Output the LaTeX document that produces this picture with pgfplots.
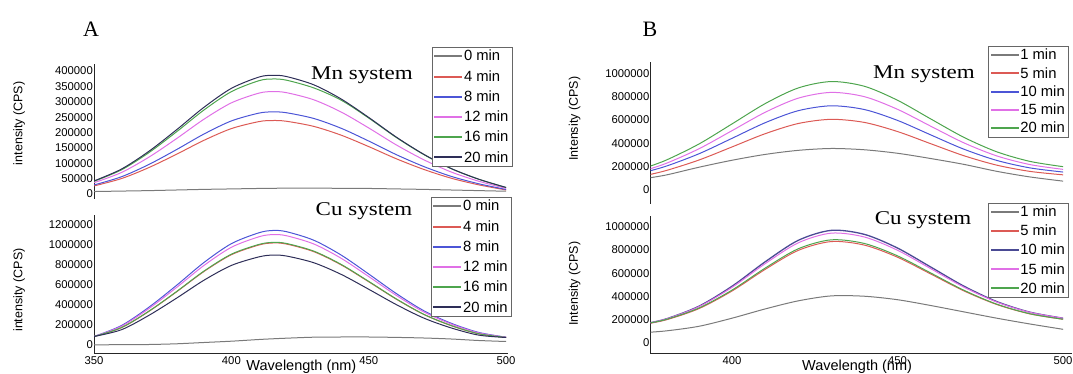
\documentclass[border=0pt]{standalone}
\usepackage{fontspec}
\setmainfont{Liberation Serif}
\setsansfont{Liberation Sans}
\usepackage{pgfplots}
\usepackage{pgfplotstable}
\pgfplotsset{compat=1.18}
\definecolor{cgray}{HTML}{7A7A7A}
\definecolor{cred}{HTML}{DC5A55}
\definecolor{cblue}{HTML}{4C55D6}
\definecolor{cmag}{HTML}{E070E6}
\definecolor{cgreen}{HTML}{4EA54E}
\definecolor{cnavy}{HTML}{2E2E58}
\definecolor{cslate}{HTML}{4A4A94}

\pgfplotstableread{
x m0 m4 m8 m12 m16 m20
350 8000 26290 29370 36630 41140 42460
360 9500 50190 56070 69930 78540 81060
370 11000 86040 96120 119880 134640 138960
380 13000 129060 144180 179820 201960 208440
390 15000 174470 194910 243090 273020 281780
400 16500 212710 237630 296370 332860 343540
410 18000 235400 263000 328000 368390 380210
415 18500 239000 267000 333000 374000 386000
420 19000 236610 264330 329670 370260 382140
430 19000 219880 245640 306360 345000 355120
440 18500 191200 213600 266400 305000 308800
450 18000 154160 172220 214790 247000 248970
460 16500 114720 128160 159840 184000 185280
470 15000 80070 89450 111560 128500 129310
480 13000 51390 57400 71600 82500 82990
490 11000 29880 33380 41630 48000 48250
500 9000 13150 14690 18320 21000 21230
}\tblAMn

\pgfplotstableread{
x c0 c4 c8 c12 c16 c20
350 2000 85000 85000 85000 85000 85000
360 3000 173400 194650 187700 174400 152800
370 5000 336600 377850 364300 338600 296700
380 12000 530400 595400 574100 533500 467500
390 25000 734400 824400 794900 738700 647300
400 38000 902700 1013300 977000 908000 795600
410 55000 999600 1122100 1081900 1005500 881000
415 62000 1020000 1145000 1104000 1026000 899000
420 68000 1009800 1133550 1093000 1015700 890000
430 78000 933300 1047700 1010200 938800 822600
440 80000 800700 898800 866600 805400 705700
450 80000 632400 709900 684500 636100 557400
460 76000 459000 515250 496800 461700 404600
470 70000 306000 343500 331200 307800 269700
480 60000 193800 217550 209800 194900 170800
490 45000 112200 125950 121400 112900 98900
500 35000 76000 78000 78000 76000 75000
}\tblACu

\pgfplotstableread{
x b1 b5 b10 b15 b20
373 95600 119000 148000 162000 182630
380 128000 165890 203180 226990 254610
390 195000 256720 310260 352890 393980
400 255000 369070 442860 508610 566380
410 305000 482490 576720 665830 740440
420 340000 570080 679970 787250 874870
430 356000 606010 722000 837020 930030
440 345000 579500 690030 800270 889410
450 315000 501330 596840 691870 769510
460 270000 397330 473020 547660 609990
470 220000 294400 350480 404960 452120
480 160000 212990 253460 292090 327270
490 112000 159580 189600 218020 245360
500 76000 130000 154000 177000 200040
}\tblBMn

\pgfplotstableread{
x k1 k5 k10 k15 k20
373 85000 155000 158000 158000 158000
380 100000 194830 203030 201750 198370
390 140000 292660 313670 309140 297770
400 210000 445090 486010 476370 452810
410 290000 631810 697150 681220 642820
420 360000 796370 883220 861750 810210
430 403000 872900 969760 945790 887920
440 400000 842210 935060 912260 856320
450 370000 737560 816720 797650 749360
460 320000 592980 653230 639250 601700
470 265000 446920 488070 479240 452540
480 210000 328210 353840 349220 331250
490 160000 247230 262270 260550 248420
500 114000 201000 210000 210000 201000
}\tblBCu

\pgfplotsset{legend image code/.code={\fill[#1, draw=none] (0pt,-1pt) rectangle (28pt,1pt);}}
\pgfplotsset{
  panel/.style={
    scale only axis, anchor=south west,
    major tick length=0pt,
    axis line style={line width=1pt, black!85},
    tick label style={font=\sffamily\fontsize{11.3}{12}\selectfont},
    /pgf/number format/assume math mode=true,
    /pgf/number format/fixed,
    /pgf/number format/1000 sep={},
    scaled y ticks=false, scaled x ticks=false,
    yticklabel style={inner sep=1pt},
    xticklabel style={inner sep=2pt},
    every axis plot/.append style={line width=1pt, no marks, smooth},
    legend cell align=left,
    ylabel style={font=\sffamily\fontsize{12.5}{14}\selectfont, anchor=center},
  },
  legS/.style 2 args={legend style={at={(axis description cs:#1)}, anchor=north west,
    draw=black!60, line width=0.8pt, inner xsep=2pt, inner ysep=1pt,
    font=\sffamily\fontsize{14.8}{16}\selectfont,
    row sep=#2, nodes={inner sep=1.8pt}}},
  topax/.style={axis x line=none, axis y line*=left},
  botax/.style={axis lines*=left,
    xlabel={Wavelength (nm)},
    xlabel style={font=\sffamily\fontsize{14.5}{16}\selectfont, anchor=base}},
}

\begin{document}
\begin{tikzpicture}
\path[use as bounding box] (0pt,0pt) rectangle (1073pt,374pt);

% A top: Mn system
\begin{axis}[panel, topax, at={(94pt,175pt)}, width=414pt, height=135pt,
  xmin=350, xmax=500.7, ymin=-16260, ymax=422800,
  ytick={0,50000,100000,150000,200000,250000,300000,350000,400000},
  ylabel={intensity (CPS)},
  ylabel style={at={(axis description cs:-0.181,0.56)}},
  legS={0.816,1.126}{4.4pt}]
\addplot[cgray] table[x=x,y=m0] {\tblAMn};
\addplot[cred] table[x=x,y=m4] {\tblAMn};
\addplot[cblue] table[x=x,y=m8] {\tblAMn};
\addplot[cmag] table[x=x,y=m12] {\tblAMn};
\addplot[cgreen] table[x=x,y=m16] {\tblAMn};
\addplot[cnavy] table[x=x,y=m20] {\tblAMn};
\legend{0 min,4 min,8 min,12 min,16 min,20 min}
\end{axis}

% A bottom: Cu system
\begin{axis}[panel, botax, at={(94pt,20pt)}, width=414pt, height=139pt,
  xmin=350, xmax=500.7, ymin=-90000, ymax=1300000,
  xtick={350,400,450,500},
  ytick={0,200000,400000,600000,800000,1000000,1200000},
  ylabel={intensity (CPS)},
  ylabel style={at={(axis description cs:-0.181,0.46)}},
  xlabel style={at={(axis description cs:0.501,0)}, yshift=-17pt},
  legS={0.814,1.129}{4.4pt}]
\addplot[cgray] table[x=x,y=c0] {\tblACu};
\addplot[cred] table[x=x,y=c4] {\tblACu};
\addplot[cblue] table[x=x,y=c8] {\tblACu};
\addplot[cmag] table[x=x,y=c12] {\tblACu};
\addplot[cgreen] table[x=x,y=c16] {\tblACu};
\addplot[cnavy] table[x=x,y=c20] {\tblACu};
\legend{0 min,4 min,8 min,12 min,16 min,20 min}
\end{axis}

% B top: Mn system
\begin{axis}[panel, topax, at={(650.5pt,170pt)}, width=421.5pt, height=142pt,
  xmin=375.4, xmax=502.7, ymin=-120000, ymax=1097700,
  ytick={0,200000,400000,600000,800000,1000000},
  ylabel={Intensity (CPS)},
  ylabel style={at={(axis description cs:-0.18,0.6)}},
  legS={0.801,1.113}{2.4pt}]
\addplot[cgray] table[x=x,y=b1] {\tblBMn};
\addplot[cred] table[x=x,y=b5] {\tblBMn};
\addplot[cblue] table[x=x,y=b10] {\tblBMn};
\addplot[cmag] table[x=x,y=b15] {\tblBMn};
\addplot[cgreen] table[x=x,y=b20] {\tblBMn};
\legend{1 min,5 min,10 min,15 min,20 min}
\end{axis}

% B bottom: Cu system
\begin{axis}[panel, botax, at={(650.5pt,20pt)}, width=421.5pt, height=138pt,
  xmin=375.4, xmax=502.7, ymin=-99500, ymax=1094000,
  xtick={400,450,500},
  ytick={0,200000,400000,600000,800000,1000000},
  ylabel={Intensity (CPS)},
  ylabel style={at={(axis description cs:-0.18,0.51)}},
  xlabel style={at={(axis description cs:0.49,0)}, yshift=-17pt},
  legS={0.801,1.094}{3.2pt}]
\addplot[cgray] table[x=x,y=k1] {\tblBCu};
\addplot[cred] table[x=x,y=k5] {\tblBCu};
\addplot[cslate, line width=1.3pt] table[x=x,y=k10] {\tblBCu};
\addplot[cmag] table[x=x,y=k15] {\tblBCu};
\addplot[cgreen] table[x=x,y=k20] {\tblBCu};
\legend{1 min,5 min,10 min,15 min,20 min}
\end{axis}

\node[font=\fontsize{22}{24}\selectfont] at (91pt,345pt) {A};
\node[font=\fontsize{22}{24}\selectfont] at (650pt,345pt) {B};
\node[font=\fontsize{19.5}{22}\selectfont] at (362pt,299pt) {\scalebox{1.18}[1]{Mn system}};
\node[font=\fontsize{19.5}{22}\selectfont] at (364pt,163pt) {\scalebox{1.18}[1]{Cu system}};
\node[font=\fontsize{19.5}{22}\selectfont] at (924pt,300pt) {\scalebox{1.18}[1]{Mn system}};
\node[font=\fontsize{19.5}{22}\selectfont] at (923pt,154pt) {\scalebox{1.18}[1]{Cu system}};
\end{tikzpicture}
\end{document}
